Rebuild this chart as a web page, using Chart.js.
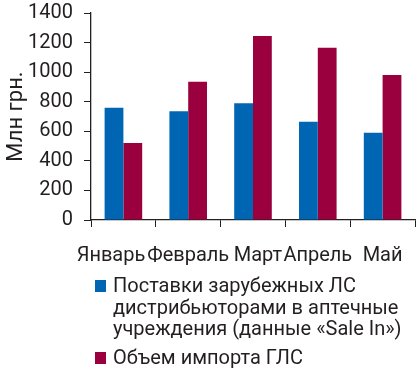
<!DOCTYPE html>
<html>
<head>
<meta charset="utf-8">
<script src="https://cdn.jsdelivr.net/npm/chart.js@4.4.1/dist/chart.umd.min.js"></script>
<style>
  body { margin: 0; background: #fff; }
  #wrap { position: relative; width: 420px; height: 373px; }
  #legend { position: absolute; left: 95px; top: 275px; font-family: Roboto, sans-serif;
            font-size: 20px; line-height: 21.7px; color: #231f20; }
  .item { position: relative; padding-left: 18px; margin-bottom: 7px; }
  .box { position: absolute; left: 0; top: 5px; width: 11px; height: 12px; }
</style>
</head>
<body>
<div id="wrap">
  <canvas id="chart" width="420" height="373"></canvas>
  <div id="legend"></div>
</div>
<script>
const months = ['Январь', 'Февраль', 'Март', 'Апрель', 'Май'];
const supplies = [760, 735, 790, 665, 590];
const imports = [520, 935, 1245, 1165, 980];
const seriesNames = [
  ['Поставки зарубежных ЛС', 'дистрибьюторами в аптечные', 'учреждения (данные «Sale In»)'],
  ['Объем импорта ГЛС']
];
const colors = ['#0066b3', '#99003d'];
const yTicks = [0, 200, 400, 600, 800, 1000, 1200, 1400];

const ink = '#231f20';
const fam = 'Roboto, sans-serif';

// labels in the original are nudged a little so they don't run into each other
function nudge(label) {
  if (label === 'Январь') return label + '     ';
  if (label === 'Март') return '  ' + label;
  return label;
}

let chart = new Chart(document.getElementById('chart'), {
  type: 'bar',
  data: {
    labels: months,
    datasets: [
      { label: seriesNames[0].join(' '), data: supplies, backgroundColor: colors[0] },
      { label: seriesNames[1].join(' '), data: imports, backgroundColor: colors[1] }
    ]
  },
  options: {
    responsive: false,
    animation: false,
    layout: { padding: { top: 13, right: 5, bottom: 108, left: 0 } },
    datasets: { bar: { categoryPercentage: 0.58, barPercentage: 1 } },
    plugins: { legend: { display: false }, tooltip: { enabled: false } },
    scales: {
      x: {
        grid: { drawOnChartArea: false, tickLength: 7, color: ink, offset: true },
        border: { color: ink, width: 1.3 },
        ticks: {
          color: ink, font: { family: fam, size: 20 }, padding: 17, maxRotation: 0, autoSkip: false,
          callback: function(v) { return nudge(this.getLabelForValue(v)); }
        },
        afterFit: (s) => { s.height = 45; s.paddingLeft = 0; s.paddingRight = 0; }
      },
      y: {
        min: 0,
        max: 1400,
        afterBuildTicks: (s) => { s.ticks = yTicks.map(v => ({ value: v })); },
        grid: { drawOnChartArea: false, tickLength: 7, color: ink },
        border: { color: ink, width: 1.3 },
        ticks: { color: ink, font: { family: fam, size: 20 }, padding: 11, callback: (v) => String(v) },
        title: { display: true, text: 'Млн грн.', color: ink, font: { family: fam, size: 22 }, padding: { top: 3, bottom: 0 } },
        afterFit: (s) => { s.width = 91; s.paddingTop = 0; s.paddingBottom = 0; }
      }
    }
  }
});

const legend = document.getElementById('legend');
seriesNames.forEach((lines, i) => {
  const item = document.createElement('div');
  item.className = 'item';
  const box = document.createElement('span');
  box.className = 'box';
  box.style.background = colors[i];
  item.appendChild(box);
  lines.forEach(t => {
    const line = document.createElement('div');
    line.textContent = t;
    item.appendChild(line);
  });
  legend.appendChild(item);
});
</script>
</body>
</html>
